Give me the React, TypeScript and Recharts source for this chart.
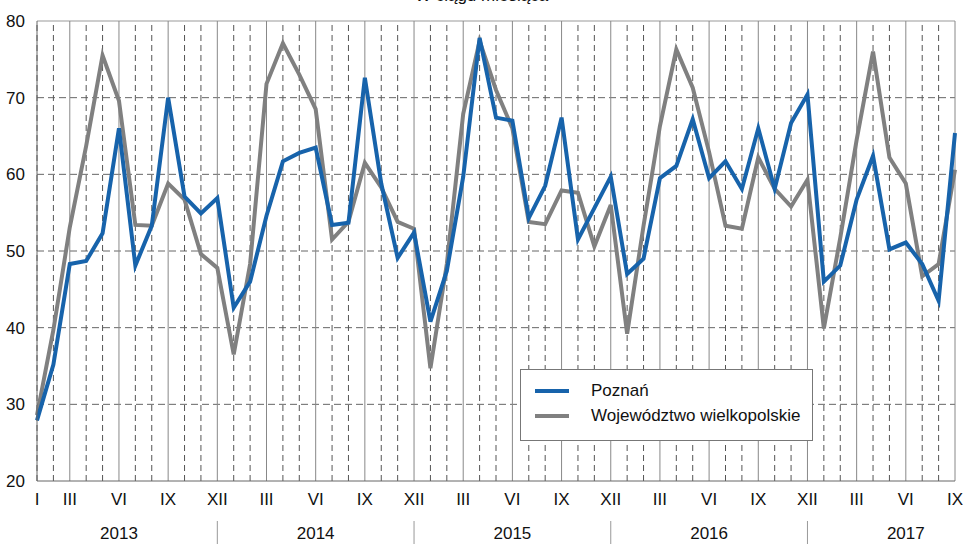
import { LineChart, Line, XAxis, YAxis, ReferenceLine, Legend } from "recharts";

const years = ["2013", "2014", "2015", "2016", "2017"];
const monthLabels: Record<number, string> = { 2: "III", 5: "VI", 8: "IX", 11: "XII" };
const firstLabel = "I";

const poznan = [
  27.9, 35.2, 48.3, 48.7, 52.3, 66.0, 48.1, 53.3, 70.0, 57.1, 54.9, 56.9,
  42.6, 46.0, 54.6, 61.7, 62.8, 63.5, 53.4, 53.7, 72.6, 58.8, 49.1, 52.4,
  40.8, 47.4, 59.7, 77.8, 67.4, 67.0, 54.3, 58.5, 67.4, 51.5, 55.6, 59.7,
  47.0, 49.0, 59.5, 61.1, 67.2, 59.5, 61.7, 58.1, 66.0, 58.1, 66.7, 70.4,
  46.0, 48.1, 56.7, 62.4, 50.2, 51.1, 48.3, 43.5, 65.4,
];

const wielkopolskie = [
  28.6, 39.7, 53.1, 63.7, 75.5, 69.6, 53.4, 53.3, 58.8, 56.7, 49.6, 47.8,
  36.5, 48.3, 71.8, 77.1, 73.0, 68.5, 51.5, 53.8, 61.5, 58.3, 53.8, 52.9,
  34.7, 48.3, 67.9, 77.4, 71.0, 66.0, 53.8, 53.5, 57.9, 57.6, 50.6, 56.0,
  39.2, 53.3, 66.3, 76.3, 71.3, 62.9, 53.3, 52.9, 62.2, 58.1, 55.8, 59.3,
  39.9, 51.7, 64.5, 76.0, 62.2, 58.8, 46.7, 48.3, 60.6,
];

const yTicks = [20, 30, 40, 50, 60, 70, 80];

const data = poznan.map((p, i) => ({ i, poznan: p, woj: wielkopolskie[i] }));
const FONT = "'Liberation Sans Narrow', 'Liberation Sans', Arial, sans-serif";
const BLUE = "#1763ab";
const GRAY = "#808080";

function MonthTick(props: any) {
  const { x, y, payload } = props;
  const idx: number = payload.value;
  const m = idx % 12;
  const label = idx === 0 ? firstLabel : monthLabels[m];
  return (
    <g>
      {label && (
        <text x={x} y={y + 16} textAnchor="middle" fontSize={17} fontFamily={FONT} fill="#111">
          {label}
        </text>
      )}
      {m === 5 && (
        <text x={x} y={y + 50} textAnchor="middle" fontSize={17} fontFamily={FONT} fill="#111">
          {years[Math.floor(idx / 12)]}
        </text>
      )}
      {m === 11 && <line x1={x} x2={x} y1={y + 32} y2={y + 60} stroke="#999" strokeWidth={1} />}
    </g>
  );
}

export default function App() {
  return (
    <div style={{ position: "absolute", left: 0, top: 0, width: 963, height: 544, background: "#fff", overflow: "hidden" }}>
      <div
        style={{
          position: "absolute",
          top: -14,
          left: 0,
          width: 963,
          textAlign: "center",
          fontFamily: FONT,
          fontSize: 17,
          color: "#111",
        }}
      >
        W ciągu miesiąca
      </div>
      <LineChart width={963} height={544} data={data} margin={{ top: 21, right: 8, bottom: 0, left: 0 }}>
        {yTicks.slice(1, -1).map((v) => (
          <ReferenceLine key={"h" + v} y={v} stroke="#666" strokeDasharray="7 4" strokeWidth={1} />
        ))}
        <ReferenceLine y={80} stroke="#999" strokeWidth={1} />
        {data.map((d) => (
          <ReferenceLine
            key={"v" + d.i}
            x={d.i}
            stroke={d.i % 3 === 2 ? "#888" : "#555"}
            strokeDasharray={d.i % 3 === 2 ? undefined : "6 4"}
            strokeWidth={1}
          />
        ))}
        <XAxis
          dataKey="i"
          type="number"
          domain={[0, 56]}
          ticks={data.map((d) => d.i)}
          interval={0}
          height={63}
          tickLine={false}
          axisLine={{ stroke: "#666" }}
          tick={<MonthTick />}
        />
        <YAxis
          domain={[20, 80]}
          ticks={yTicks}
          width={37}
          tickLine={false}
          axisLine={{ stroke: "#666" }}
          tick={{ fontSize: 17, fontFamily: FONT, fill: "#111" }}
          tickMargin={6}
        />
        <Line
          dataKey="woj"
          name="Województwo wielkopolskie"
          stroke={GRAY}
          strokeWidth={4}
          dot={false}
          isAnimationActive={false}
          strokeLinejoin="miter"
        />
        <Line
          dataKey="poznan"
          name="Poznań"
          stroke={BLUE}
          strokeWidth={4}
          dot={false}
          isAnimationActive={false}
          strokeLinejoin="miter"
        />
        <Legend
          layout="vertical"
          verticalAlign="top"
          align="left"
          content={() => (
            <div
              style={{
                position: "absolute",
                left: 520,
                top: 369,
                width: 293,
                height: 72,
                boxSizing: "border-box",
                border: "1px solid #777",
                background: "#fff",
                fontFamily: FONT,
                fontSize: 17,
                color: "#111",
              }}
            >
              {[
                { name: "Poznań", color: BLUE },
                { name: "Województwo wielkopolskie", color: GRAY },
              ].map((it, k) => (
                <div key={it.name} style={{ position: "absolute", left: 14, top: 11 + k * 25, display: "flex", alignItems: "center" }}>
                  <span style={{ display: "inline-block", width: 34, height: 4, background: it.color }} />
                  <span style={{ marginLeft: 22 }}>{it.name}</span>
                </div>
              ))}
            </div>
          )}
          wrapperStyle={{ left: 0, top: 0, width: 0, height: 0 }}
        />
      </LineChart>
    </div>
  );
}
